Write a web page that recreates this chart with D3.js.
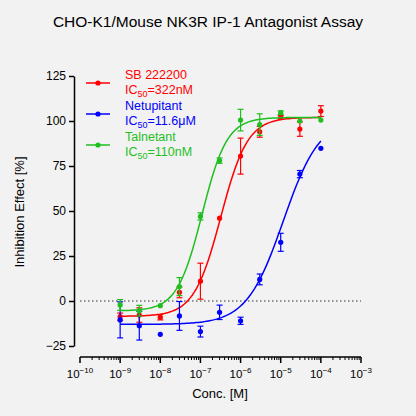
<!DOCTYPE html><html><head><script src="https://cdn.jsdelivr.net/npm/d3@7"></script>
<style>body{margin:0;background:#f2f2f2}svg{font-family:Arial,"Liberation Sans",sans-serif}</style></head><body>
<svg id="c" width="416" height="416"></svg>
<script>
const conc=[1e-9,3e-9,1e-8,3e-8,1e-7,3e-7,1e-6,3e-6,1e-5,3e-5,1e-4];
const sbY=[-8.7,-7.8,-9,4.8,11,46,80.5,94,102,95.5,105.5];
const sbE=[2,4,1.5,3,10,0,10,3,1,4,3];
const netY=[-10.5,-13.7,-18.5,-8.3,-17,-6.3,-11,12,32.6,70.5,84.8];
const netE=[10,8,0,8,3,4,2,3,5,2,0];
const talY=[-2.2,-5.4,-2.6,8,47,78,100.5,98,104.6,100,100.5];
const talE=[3,3,0,5,2,1.5,6,6,1,0,0];
const series=[
 {name:"SB 222200",ic:"322nM",color:"#ff0000",y:sbY,e:sbE,bot:-8.5,top:102,ec:3.22e-7,h:1.3},
 {name:"Netupitant",ic:"11.6μM",color:"#0000ff",y:netY,e:netE,bot:-13,top:102,ec:1.16e-5,h:0.95},
 {name:"Talnetant",ic:"110nM",color:"#1fbf1f",y:talY,e:talE,bot:-5.5,top:102,ec:1.1e-7,h:1.4}];
const yTicks=[-25,0,25,50,75,100,125];
const xExp=[-10,-9,-8,-7,-6,-5,-4,-3];
const svg=d3.select("#c");
const x=d3.scaleLog().domain([1e-10,1e-3]).range([80,361]);
const y=d3.scaleLinear().domain([-25,125]).range([346,76]);
svg.append("text").attr("x",208).attr("y",27).attr("text-anchor","middle").attr("font-size",15.5).text("CHO-K1/Mouse NK3R IP-1 Antagonist Assay");
const ya=svg.append("g").attr("transform","translate(74,0)").call(d3.axisLeft(y).tickValues(yTicks).tickSize(5).tickSizeOuter(0));
ya.selectAll("text").attr("font-size",12).attr("fill","#000");
ya.selectAll("path,line").attr("stroke","#000").attr("stroke-width",1.5);
const xa=svg.append("g").attr("transform","translate(0,357)");
xa.append("line").attr("x1",80).attr("x2",361).attr("stroke","#000").attr("stroke-width",1.5);
const minor=[];for(let e=-10;e<-3;e++)for(let k=2;k<10;k++)minor.push(k*Math.pow(10,e));
xa.selectAll(".mn").data(minor).join("line").attr("x1",d=>x(d)).attr("x2",d=>x(d)).attr("y2",3).attr("stroke","#000");
xa.selectAll(".mj").data(xExp).join("line").attr("x1",d=>x(Math.pow(10,d))).attr("x2",d=>x(Math.pow(10,d))).attr("y2",6).attr("stroke","#000").attr("stroke-width",1.5);
const tl=xa.selectAll(".tl").data(xExp).join("text").attr("x",d=>x(Math.pow(10,d))).attr("y",21).attr("text-anchor","middle").attr("font-size",11.5);
tl.append("tspan").text("10");tl.append("tspan").attr("dy",-5).attr("font-size",8).text(d=>"−"+Math.abs(d));
svg.append("text").attr("x",220).attr("y",398).attr("text-anchor","middle").attr("font-size",13).text("Conc. [M]");
svg.append("text").attr("transform","translate(24,212) rotate(-90)").attr("text-anchor","middle").attr("font-size",13).text("Inhibition Effect [%]");
svg.append("line").attr("x1",80).attr("x2",361).attr("y1",y(0)).attr("y2",y(0)).attr("stroke","#333").attr("stroke-dasharray","1.5,2.5");
const line=d3.line().x(d=>x(d[0])).y(d=>y(d[1]));
series.forEach(s=>{
 const pts=d3.range(0,101).map(i=>{const c=Math.pow(10,-9+5*i/100);return [c,s.bot+(s.top-s.bot)/(1+Math.pow(s.ec/c,s.h))];});
 svg.append("path").attr("d",line(pts)).attr("fill","none").attr("stroke",s.color).attr("stroke-width",1.5);
 const g=svg.append("g").attr("stroke",s.color).attr("stroke-width",1.2);
 conc.forEach((c,i)=>{if(!s.e[i])return;const cx=x(c);
  g.append("line").attr("x1",cx).attr("x2",cx).attr("y1",y(s.y[i]-s.e[i])).attr("y2",y(s.y[i]+s.e[i]));
  [s.y[i]-s.e[i],s.y[i]+s.e[i]].forEach(v=>g.append("line").attr("x1",cx-3).attr("x2",cx+3).attr("y1",y(v)).attr("y2",y(v)));});
 svg.selectAll(null).data(conc).join("circle").attr("cx",d=>x(d)).attr("cy",(d,i)=>y(s.y[i])).attr("r",2.6).attr("fill",s.color);
});
series.forEach((s,i)=>{const ly=76+i*31;
 svg.append("line").attr("x1",86).attr("x2",110).attr("y1",ly+7).attr("y2",ly+7).attr("stroke",s.color).attr("stroke-width",1.5);
 svg.append("circle").attr("cx",98).attr("cy",ly+7).attr("r",2.6).attr("fill",s.color);
 svg.append("text").attr("x",125).attr("y",ly+3).attr("font-size",12.5).attr("fill",s.color).text(s.name);
 const t=svg.append("text").attr("x",125).attr("y",ly+18).attr("font-size",12.5).attr("fill",s.color);
 t.append("tspan").text("IC");t.append("tspan").attr("dy",3).attr("font-size",9).text("50");t.append("tspan").attr("dy",-3).text("="+s.ic);
});
</script></body></html>
